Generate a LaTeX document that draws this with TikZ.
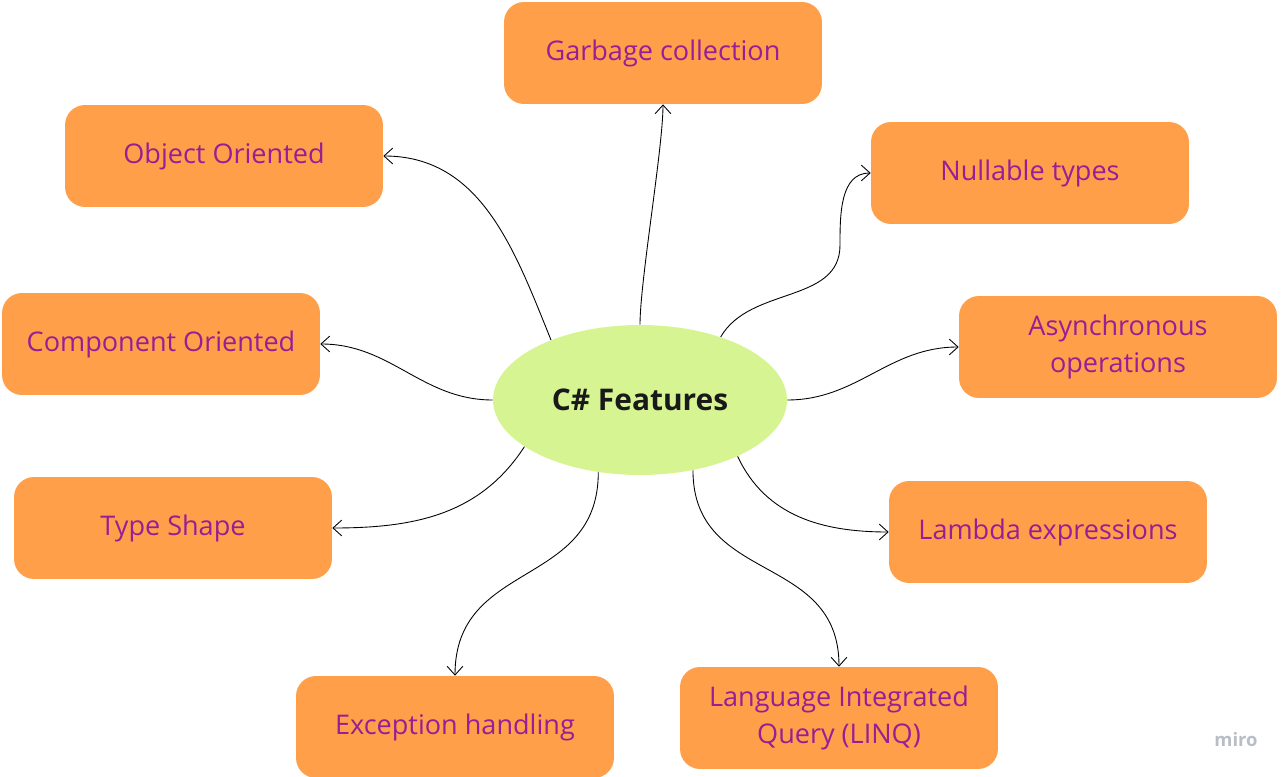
\documentclass[tikz,border=0pt]{standalone}
\usepackage{fontspec}
\setmainfont{Open Sans}
\definecolor{boxorange}{RGB}{255,159,74}
\definecolor{hubgreen}{RGB}{214,245,146}
\definecolor{labelpurple}{RGB}{150,30,150}
\definecolor{mirogray}{RGB}{185,189,198}
\usetikzlibrary{shapes.geometric, arrows.meta}
\tikzset{
x=0.02cm, y=-0.02cm, % one unit is one pixel, y grows downwards
>={Straight Barb[length=5pt,width=9pt]}, % thin open arrow heads
feature/.style={fill=boxorange, rounded corners=0.4cm, minimum width=6.36cm, minimum height=2.04cm, text=labelpurple, align=center, font=\fontsize{15.4}{21}\selectfont}, % the orange boxes
hub/.style={ellipse, fill=hubgreen, minimum width=5.88cm, minimum height=3cm, text=black!90, font=\bfseries\fontsize{17}{20}\selectfont}, % the middle ellipse
link/.style={->, line width=0.5pt}, % the curved arrows
}
\begin{document}
\begin{tikzpicture}
        \useasboundingbox (0,0) rectangle (1286,777);
        \node[hub] (cs) at (640,400) {C\# Features};
        \node[feature] (gc) at (663,53) {Garbage collection};
        \node[feature] (oo) at (224,156) {Object Oriented};
        \node[feature] (nt) at (1030,173) {Nullable types};
        \node[feature] (co) at (161,344) {Component Oriented};
        \node[feature] (ao) at (1118,347) {Asynchronous\\operations};
        \node[feature] (ts) at (173,528) {Type Shape};
        \node[feature] (le) at (1048,532) {Lambda expressions};
        \node[feature] (eh) at (455,727) {Exception handling};
        \node[feature] (lq) at (839,718) {Language Integrated\\Query (LINQ)};
        \node[text=mirogray, font=\bfseries\fontsize{10.5}{12}\selectfont] (miro) at (1236,740) {miro};

        \draw[link] (cs.north) to[out=90,in=-90,looseness=0.5] (gc.south);
        \draw[link] (cs.146) to[out=112,in=0] (oo.east);
        \draw[link] (cs.38) to[out=60,in=-90] (840,245) to[out=90,in=180] (nt.west);
        \draw[link] (cs.west) to[out=180,in=0] (co.east);
        \draw[link] (cs.east) to[out=0,in=180] (ao.west);
        \draw[link] (cs.202) to[out=237,in=0] (ts.east);
        \draw[link] (cs.330) to[out=-65,in=180] (le.west);
        \draw[link] (cs.240) to[out=-90,in=90,looseness=1.2] (eh.north);
        \draw[link] (cs.307) to[out=-90,in=90,looseness=1.2] (lq.north);
      \end{tikzpicture}
\end{document}
